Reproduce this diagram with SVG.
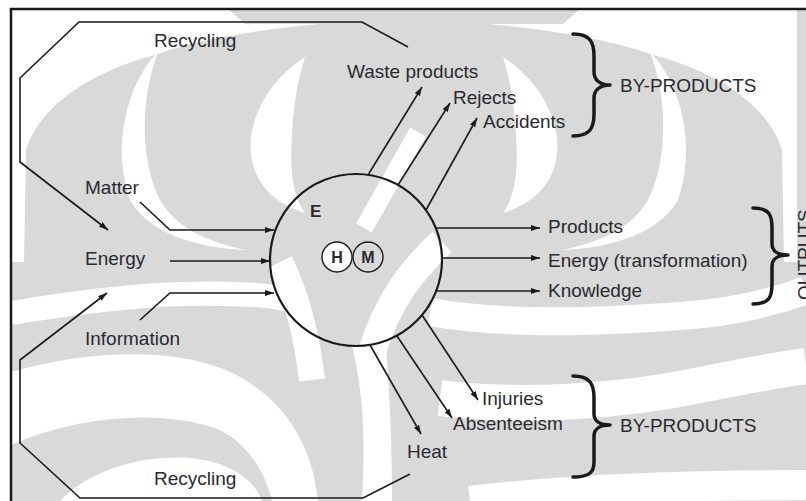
<svg xmlns="http://www.w3.org/2000/svg" width="806" height="501" viewBox="0 0 806 501">
<defs>
<style>
.t{font-family:"Liberation Sans",Arial,sans-serif;font-size:19px;fill:#2a2a30;}
.b{font-weight:bold;}
.ln{fill:none;stroke:#1a1a1a;stroke-width:1.6;}
.br{fill:none;stroke:#1a1a1a;stroke-width:3.5;stroke-linecap:round;stroke-linejoin:round;}
.wf{fill:#ffffff;}
.ws{fill:none;stroke:#ffffff;}
</style>
<marker id="ah" viewBox="0 0 9 6" refX="9" refY="3" markerWidth="9" markerHeight="6" markerUnits="userSpaceOnUse" orient="auto">
<path d="M0,0 L9,3 L0,6 Z" fill="#1a1a1a"/>
</marker>
<g id="topwhite">
<path class="wf" d="M11,9 H228 L245,24 H320 C250,30 190,42 158,54 C90,72 40,105 26,150 L24,262 L11,262 Z"/>
<path class="wf" d="M158,52 C125,85 112,150 130,200 C150,235 200,248 245,250 C200,240 175,225 160,200 C140,160 140,100 158,52 Z"/>
<path class="wf" d="M305,57 C262,85 245,130 252,160 C258,190 280,205 305,213 C292,195 290,170 292,135 C294,100 298,80 305,57 Z"/>
</g>
</defs>
<rect width="806" height="501" fill="#ffffff"/>
<g id="watermark">
<rect x="11" y="9" width="795" height="492" fill="#d9d9d9"/>
<use href="#topwhite"/>
<use href="#topwhite" transform="translate(808,0) scale(-1,1)"/>
<path class="ws" stroke-width="24" d="M11,313 C60,305 120,296 180,294 C220,293 260,293 290,300"/>
<path class="wf" d="M11,372 C80,352 170,345 230,372 C280,395 312,440 318,501 L272,501 C265,470 245,440 215,428 C160,410 80,415 11,445 Z"/>
<path class="wf" d="M60,501 C90,470 140,455 190,458 C230,462 255,480 262,501 Z"/>
<path class="wf" d="M352,345 C365,400 365,450 362,501 L392,501 C392,450 390,400 386,345 Z"/>
<path class="ws" stroke-width="26" d="M280,262 C296,295 306,330 312,380"/>
<path class="ws" stroke-width="28" d="M442,242 C412,270 388,300 372,352"/>
<path class="ws" stroke-width="18" d="M364,228 L418,132"/>
<path class="ws" stroke-width="28" d="M430,312 C500,325 600,322 680,316 C740,312 780,300 806,290"/>
<path class="ws" stroke-width="36" d="M440,398 C520,408 620,402 700,385 C750,375 790,368 806,366"/>
<path class="ws" stroke-width="30" d="M470,501 C560,490 680,485 806,485"/>
</g>
<g id="frame">
<path d="M11,501 V9 H806" fill="none" stroke="#1a1a1a" stroke-width="2.5"/>
</g>
<g id="connectors">
<path class="ln" d="M408,47 L362,22 L79,22 L20,78 L20,162 L108,230" marker-end="url(#ah)"/>
<path class="ln" d="M410,474 L363,498 L80,498 L20,443 L20,360 L107,293" marker-end="url(#ah)"/>
<path class="ln" d="M140,202 L170,230 L274,230" marker-end="url(#ah)"/>
<path class="ln" d="M170,261 L270,261" marker-end="url(#ah)"/>
<path class="ln" d="M140,320 L170,293 L274,293" marker-end="url(#ah)"/>
<path class="ln" d="M368,175 L422,87" marker-end="url(#ah)"/>
<path class="ln" d="M398,185 L450,103" marker-end="url(#ah)"/>
<path class="ln" d="M426,210 L477,118" marker-end="url(#ah)"/>
<path class="ln" d="M436,228 L540,228" marker-end="url(#ah)"/>
<path class="ln" d="M442,258 L540,258" marker-end="url(#ah)"/>
<path class="ln" d="M435,291 L540,291" marker-end="url(#ah)"/>
<path class="ln" d="M422,315 L478,400" marker-end="url(#ah)"/>
<path class="ln" d="M397,336 L452,418" marker-end="url(#ah)"/>
<path class="ln" d="M370,345 L421,434" marker-end="url(#ah)"/>
</g>
<g id="system">
<circle cx="356" cy="260" r="86" fill="none" stroke="#1a1a1a" stroke-width="2.2"/>
<text class="t b" x="310" y="217" style="font-size:17px">E</text>
</g>
<g id="node-H">
<circle cx="337" cy="257" r="15" fill="#fff" stroke="#1a1a1a" stroke-width="1.4"/>
<text class="t b" x="337" y="263" text-anchor="middle" style="font-size:16px">H</text>
</g>
<g id="node-M">
<circle cx="368" cy="257" r="15" fill="none" stroke="#1a1a1a" stroke-width="1.4"/>
<text class="t b" x="368" y="263" text-anchor="middle" style="font-size:16px">M</text>
</g>
<g id="inputs">
<text class="t" x="85" y="194">Matter</text>
<text class="t" x="85" y="265">Energy</text>
<text class="t" x="85" y="345">Information</text>
</g>
<g id="recycling">
<text class="t" x="154" y="47">Recycling</text>
<text class="t" x="154" y="485">Recycling</text>
</g>
<g id="byproducts-top">
<text class="t" x="347" y="78">Waste products</text>
<text class="t" x="453" y="104">Rejects</text>
<text class="t" x="483" y="128">Accidents</text>
<path class="br" d="M573,34 C590,34 594,42 594,56 L594,72 C594,80 600,85 610,85 C600,85 594,90 594,98 L594,114 C594,128 590,136 573,136"/>
<text class="t" x="620" y="92">BY-PRODUCTS</text>
</g>
<g id="outputs">
<text class="t" x="548" y="233">Products</text>
<text class="t" x="548" y="267">Energy (transformation)</text>
<text class="t" x="548" y="297">Knowledge</text>
<path class="br" d="M753,208 C770,208 772,216 772,228 L772,244 C772,251 778,255 788,255 C778,255 772,259 772,266 L772,284 C772,296 770,304 753,304"/>
<text class="t" transform="translate(811,300) rotate(-90)">OUTPUTS</text>
</g>
<g id="byproducts-bottom">
<text class="t" x="482" y="405">Injuries</text>
<text class="t" x="453" y="430">Absenteeism</text>
<text class="t" x="407" y="458">Heat</text>
<path class="br" d="M573,376 C590,376 594,384 594,398 L594,414 C594,421 600,425 610,425 C600,425 594,429 594,436 L594,462 C594,472 590,477 573,477"/>
<text class="t" x="620" y="432">BY-PRODUCTS</text>
</g>
</svg>
